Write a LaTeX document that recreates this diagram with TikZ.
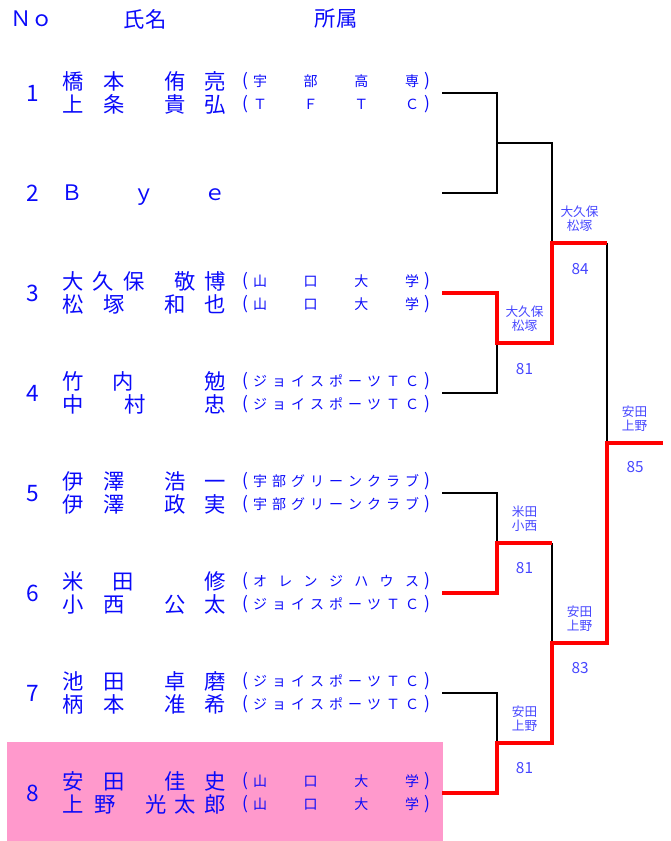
\documentclass[tikz,border=0pt]{standalone}
\usepackage{fontspec}
\setmainfont{Noto Sans CJK JP}
\usetikzlibrary{positioning}
\definecolor{txtblue}{RGB}{10,10,250}
\definecolor{lblblue}{RGB}{70,70,255}
\definecolor{winred}{RGB}{255,0,0}
\definecolor{rowpink}{RGB}{255,153,204}

% one line of a name: node prefix, y, x/char list
\newcommand{\namerow}[3]{%
  \foreach \x/\c [count=\k] in {#3}
    \node[namech] (#1-\k) at (\x,#2) {\c};}
% one line of a club: node prefix, y, number of chars, char list
\newcommand{\clubrow}[4]{%
  \node[paren] (#1-l) at (245,#2) {(};
  \node[paren] (#1-r) at (427,#2) {)};
  \foreach \c [count=\k from 0] in {#4}
    \node[clubch] (#1-\k) at ({260+\k*152/(#3-1)},#2) {\c};}

\begin{document}
\begin{tikzpicture}[x=0.75pt,y=-0.75pt,
    head/.style={font=\fontsize{16}{18}\selectfont, text=txtblue, inner sep=0pt},
    entno/.style={font=\fontsize{17}{19}\selectfont, text=txtblue, inner sep=0pt, text height=12.4pt, text depth=0pt},
    namech/.style={font=\fontsize{16}{18}\selectfont, text=txtblue, inner sep=0pt, text height=14pt, text depth=2pt},
    clubch/.style={font=\fontsize{10.5}{12}\selectfont, text=txtblue, inner sep=0pt, text height=9.2pt, text depth=1.3pt},
    paren/.style={font=\fontsize{13}{15}\selectfont, text=txtblue, inner sep=0pt},
    pair/.style={font=\fontsize{9.5}{10.5}\selectfont, text=lblblue, align=center, inner sep=0pt},
    score/.style={font=\fontsize{11.5}{13}\selectfont, text=lblblue, inner sep=0pt, text height=8.4pt, text depth=0pt},
    lose/.style={draw=black, line width=1.5pt},
    win/.style={draw=winred, line width=3pt}]
    \useasboundingbox (0,0) rectangle (670,841);
    \fill[rowpink] (7,742) rectangle (443,841);

    % header
    \node[head] (hno) at (32,19) {Ｎｏ};
    \node[head] (hname) at (145,19) {氏名};
    \node[head] (hclub) at (336,19) {所属};

    % entries
    \foreach \i in {1,...,8}{
        \node[entno] (no\i) at (33,{93+100*(\i-1)}) {\i};
        \coordinate (e\i) at (442,{93+100*(\i-1)});
    }

    \namerow{n1a}{81.5}{73/橋,114/本,175/侑,215/亮}
    \namerow{n1b}{104.5}{73/上,114/条,175/貴,215/弘}
    \clubrow{c1a}{81.5}{4}{宇,部,高,専}
    \clubrow{c1b}{104.5}{4}{Ｔ,Ｆ,Ｔ,Ｃ}

    \namerow{n2}{193}{72/Ｂ,144/ｙ,215/ｅ}

    \namerow{n3a}{281.5}{73/大,103/久,134/保,185/敬,215/博}
    \namerow{n3b}{304.5}{73/松,114/塚,175/和,215/也}
    \clubrow{c3a}{281.5}{4}{山,口,大,学}
    \clubrow{c3b}{304.5}{4}{山,口,大,学}

    \namerow{n4a}{381.5}{73/竹,123/内,215/勉}
    \namerow{n4b}{404.5}{73/中,135/村,215/忠}
    \clubrow{c4a}{381.5}{9}{ジ,ョ,イ,ス,ポ,ー,ツ,Ｔ,Ｃ}
    \clubrow{c4b}{404.5}{9}{ジ,ョ,イ,ス,ポ,ー,ツ,Ｔ,Ｃ}

    \namerow{n5a}{481.5}{73/伊,114/澤,175/浩,215/一}
    \namerow{n5b}{504.5}{73/伊,114/澤,175/政,215/実}
    \clubrow{c5a}{481.5}{9}{宇,部,グ,リ,ー,ン,ク,ラ,ブ}
    \clubrow{c5b}{504.5}{9}{宇,部,グ,リ,ー,ン,ク,ラ,ブ}

    \namerow{n6a}{581.5}{73/米,123/田,215/修}
    \namerow{n6b}{604.5}{73/小,114/西,175/公,215/太}
    \clubrow{c6a}{581.5}{7}{オ,レ,ン,ジ,ハ,ウ,ス}
    \clubrow{c6b}{604.5}{9}{ジ,ョ,イ,ス,ポ,ー,ツ,Ｔ,Ｃ}

    \namerow{n7a}{681.5}{73/池,114/田,175/卓,215/磨}
    \namerow{n7b}{704.5}{73/柄,114/本,175/准,215/希}
    \clubrow{c7a}{681.5}{9}{ジ,ョ,イ,ス,ポ,ー,ツ,Ｔ,Ｃ}
    \clubrow{c7b}{704.5}{9}{ジ,ョ,イ,ス,ポ,ー,ツ,Ｔ,Ｃ}

    \namerow{n8a}{781.5}{73/安,114/田,175/佳,215/史}
    \namerow{n8b}{804.5}{73/上,105/野,156/光,185/太,215/郎}
    \clubrow{c8a}{781.5}{4}{山,口,大,学}
    \clubrow{c8b}{804.5}{4}{山,口,大,学}

    % bracket
    \coordinate (m1) at (497,143);
    \coordinate (m2) at (497,343);
    \coordinate (m3) at (497,543);
    \coordinate (m4) at (497,743);
    \coordinate (s1) at (552,243);
    \coordinate (s2) at (552,643);
    \coordinate (f) at (607,443);
    \coordinate (fin) at (663,443);

    \draw[lose] (e1) -| (m1) |- (e2);
    \draw[lose] (m1) -| (s1);
    \draw[lose] (m2) |- (e4);
    \draw[lose] (s1 -| f) -- (f);
    \draw[lose] (e5) -| (m3);
    \draw[lose] (m3 -| s2) -- (s2);
    \draw[lose] (e7) -| (m4);
    \draw[win] (e3) -| (m2) -| (s1) -- (s1 -| f);
    \draw[win] (e6) -| (m3) -- (m3 -| s2);
    \draw[win] (e8) -| (m4) -| (s2) -| (f) -- (fin);

    % winners and scores
    \node[pair] (w2) at (524.5,319) {大久保\\松塚};
    \node[score] (sc2) at (524.5,369) {81};
    \node[pair] (w3) at (524.5,519) {米田\\小西};
    \node[score] (sc3) at (524.5,568) {81};
    \node[pair] (w4) at (524.5,719) {安田\\上野};
    \node[score] (sc4) at (524.5,768) {81};
    \node[pair] (ws1) at (579.5,219) {大久保\\松塚};
    \node[score] (scs1) at (580,269) {84};
    \node[pair] (ws2) at (579.5,619) {安田\\上野};
    \node[score] (scs2) at (580,668) {83};
    \node[pair] (wf) at (634.5,419) {安田\\上野};
    \node[score] (scf) at (635,467) {85};
\end{tikzpicture}
\end{document}
